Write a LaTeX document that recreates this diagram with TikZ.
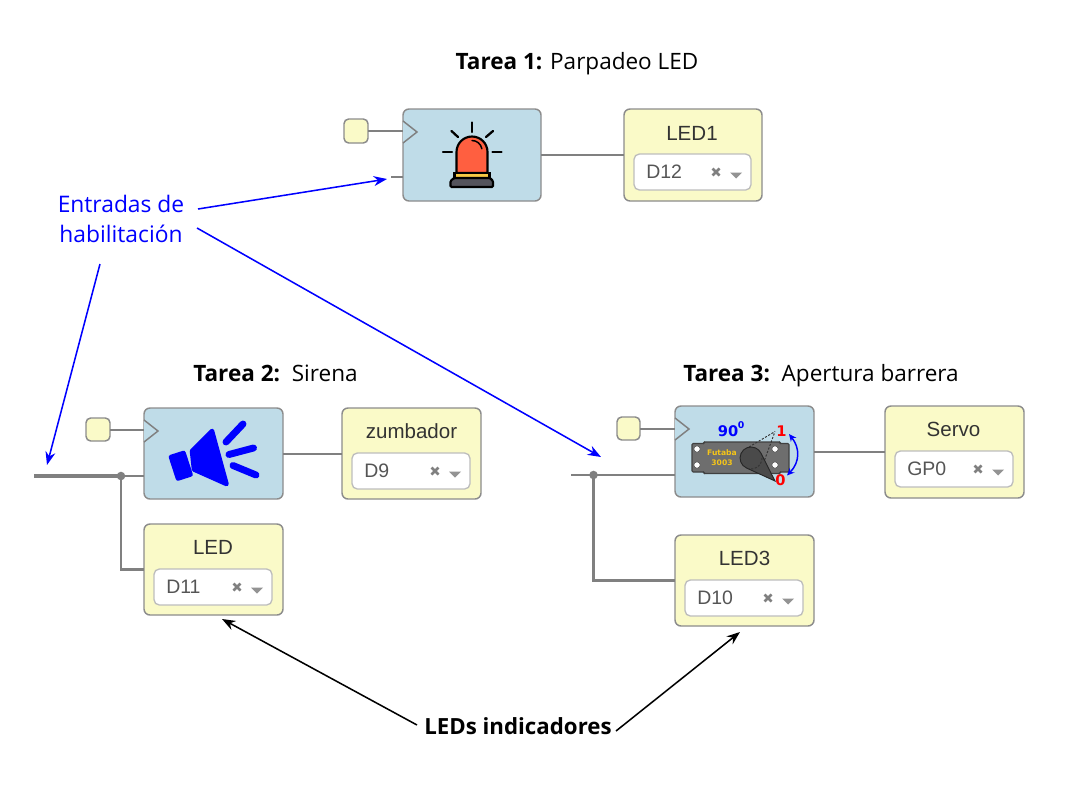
\documentclass[tikz,border=0pt]{standalone}
\usepackage{fontspec}
\setmainfont{Open Sans}
\newfontfamily\uifont{Liberation Sans}
\newfontfamily\dvfont{DejaVu Sans}
\usetikzlibrary{arrows.meta,calc}
\definecolor{blockblue}{HTML}{BFDCE8}
\definecolor{blockyellow}{HTML}{FAFAC8}
\definecolor{edgegray}{HTML}{8C8C8C}
\definecolor{wiregray}{HTML}{808080}
\definecolor{seledge}{HTML}{BDBDBD}
\definecolor{inktext}{HTML}{333333}
\definecolor{seltext}{HTML}{555555}
\definecolor{pureblue}{HTML}{0000FF}
\definecolor{sirenred}{HTML}{FF5F40}
\definecolor{sirenband}{HTML}{F6C944}
\definecolor{sirenbase}{HTML}{54545C}
\definecolor{servobody}{HTML}{6E6E6E}
\definecolor{servohorn}{HTML}{4A4A4A}
\definecolor{futaba}{HTML}{F5C518}
\newcommand\pxbox[6]{\node[#1,minimum width={(#5-#3)*0.75pt},minimum height={(#6-#4)*0.75pt}] (#2) at ({(#3+#5)/2},{(#4+#6)/2}) {};}
\newcommand\ledselect[6]{%
  \pxbox{selbox}{#1}{#2}{#3}{#4}{#5}
  \node[seltxt,anchor=west] (#1txt) at ({#2+12},{(#3+#5)/2}) {#6};
  \draw[selmark] ({#4-38.5},{(#3+#5)/2-3.5}) -- ({#4-31.5},{(#3+#5)/2+3.5}) ({#4-38.5},{(#3+#5)/2+3.5}) -- ({#4-31.5},{(#3+#5)/2-3.5});
  \fill[wiregray!85] ({#4-21},{(#3+#5)/2+.5}) -- ({#4-9},{(#3+#5)/2+.5}) -- ({#4-15},{(#3+#5)/2+6.5}) -- cycle;
}
\tikzset{
  blockb/.style={draw=edgegray,line width=1.1pt,fill=blockblue,rounded corners=4.5pt,inner sep=0pt,outer sep=0pt},
  blocky/.style={draw=edgegray,line width=1.1pt,fill=blockyellow,rounded corners=4.5pt,inner sep=0pt,outer sep=0pt},
  smallsq/.style={draw=edgegray,line width=1.1pt,fill=blockyellow,rounded corners=3.5pt,inner sep=0pt,outer sep=0pt},
  selbox/.style={draw=seledge,line width=1pt,fill=white,rounded corners=4pt,inner sep=0pt,outer sep=0pt},
  wire/.style={draw=wiregray,line width=1.5pt},
  wiredown/.style={draw=wiregray,line width=1.8pt},
  bus/.style={draw=wiregray,line width=2.4pt},
  tri/.style={draw=wiregray,line width=1.1pt,line join=miter},
  ledtxt/.style={font=\uifont\fontsize{15.4pt}{18pt}\selectfont,text=inktext,inner sep=0pt},
  seltxt/.style={font=\uifont\fontsize{14.6pt}{18pt}\selectfont,text=seltext,inner sep=0pt},
  selmark/.style={draw=wiregray,line width=1.9pt},
  titletxt/.style={font=\fontsize{16.9pt}{18pt}\selectfont,text=black,inner sep=0pt},
  bluetxt/.style={font=\fontsize{17.1pt}{22.5pt}\selectfont,text=pureblue,inner sep=0pt,align=center},
  blackarrow/.style={draw=black,line width=1.15pt,-{Stealth[length=10pt,width=7.5pt]}},
  bluearrow/.style={draw=pureblue,line width=1.15pt,-{Stealth[length=10pt,width=7.5pt]}},
  ray/.style={draw=black,line width=1.7pt,line cap=round},
  spk/.style={draw=pureblue,line width=5.2pt,line cap=round},
  spkbody/.style={draw=pureblue,fill=pureblue,line width=3.4pt,line join=round},
  dotnode/.style={circle,fill=wiregray,minimum size=6.4pt,inner sep=0pt,outer sep=0pt},
  fine/.style={black!80,line width=.7pt,dash pattern=on 1.6pt off 1.2pt},
}
\begin{document}
\begin{tikzpicture}[x=0.75pt,y=-0.75pt]
\useasboundingbox (0,0) rectangle (1070,789);

% titles
\node[titletxt] (t1) at (577,63.5) {\textbf{Tarea 1:} Parpadeo LED};
\node[titletxt] (t2) at (275.5,373) {\textbf{Tarea 2:}\ \ Sirena};
\node[titletxt] (t3) at (821,376) {\textbf{Tarea 3:}\ \ Apertura barrera};
\node[bluetxt] (ent) at (121,219) {Entradas de\\habilitación};
\node[titletxt,font=\bfseries\fontsize{16.7pt}{18pt}\selectfont] (leds) at (518,726.5) {LEDs indicadores};

% --- task 1 ---
\pxbox{smallsq}{sq1}{344}{119}{368}{143}
\pxbox{blockb}{alarm}{403}{109}{541}{201}
\pxbox{blocky}{led1}{624}{109}{762}{201}
\coordinate (en1) at (391,177);
\draw[wire] (sq1.east) -- (sq1.east -| alarm.west);
\draw[wire] (en1) -- (en1 -| alarm.west);
\draw[wire] (alarm.east) -- (led1.west);
\draw[tri,fill=blockblue] (403,121) -- (417,132) -- (403,143);
\node[ledtxt] (led1t) at (692,133) {LED1};
\ledselect{sel1}{634}{154}{751}{190}{D12}
% siren lamp
\draw[black,line width=1.6pt,fill=sirenred] (456.5,173) -- (456.5,152) arc[start angle=180,end angle=360,radius=15.5] -- (487.5,173) -- cycle;
\draw[black,line width=1.6pt,fill=sirenband] (454.5,173) rectangle (489.5,178);
\draw[black,line width=1.6pt,fill=sirenbase,rounded corners=.8pt] (450.5,187) -- (450.5,181) -- (454,178) -- (490,178) -- (493,181) -- (493,187) -- cycle;
\draw[black,line width=1.1pt,line cap=round] (472,140.5) arc[start angle=270,end angle=350,radius=10];
\draw[ray] (472,122.5) -- (472,132);
\draw[ray] (451.5,131) -- (458,137);
\draw[ray] (493,131) -- (486,137);
\draw[ray] (443,152) -- (452,152);
\draw[ray] (492.5,152) -- (501.5,152);

% --- task 2 ---
\pxbox{smallsq}{sq2}{86}{418}{110}{441}
\pxbox{blockb}{siren}{144}{408}{283}{499}
\pxbox{blocky}{zum}{342}{408}{481}{499}
\pxbox{blocky}{led2}{144}{524}{283}{615}
\coordinate (bus2) at (34,476);
\node[dotnode] (dot2) at (121,476) {};
\draw[wire] (sq2.east) -- (sq2.east -| siren.west);
\draw[bus] (bus2) -- (dot2.center);
\draw[wire] (dot2.center) -- (dot2.center -| siren.west);
\draw[wiredown] (dot2.center) |- (led2.west);
\draw[wire] (siren.east |- zum.west) -- (zum.west);
\draw[tri,fill=blockblue] (144,420) -- (158,431) -- (144,442);
\node[ledtxt] (zumt) at (411.5,431) {zumbador};
\ledselect{sel2}{352}{453}{470}{489}{D9}
\node[ledtxt] (led2t) at (213,547) {LED};
\ledselect{sel3}{154}{569}{272}{605}{D11}
% speaker
\draw[spkbody] (171,457) -- (183.5,453) -- (190.5,474.5) -- (178,478.5) -- cycle;
\draw[spkbody] (192,451) -- (212,431) -- (226.5,484) -- (194,469.5) -- cycle;
\draw[spk] (226,442) -- (243,424);
\draw[spk] (229,454.5) -- (253.5,448);
\draw[spk] (233,465.5) -- (256,475);

% --- task 3 ---
\pxbox{smallsq}{sq3}{617}{417}{640}{440}
\pxbox{blockb}{servo}{675}{406}{814}{497}
\pxbox{blocky}{srv}{885}{406}{1024}{498}
\pxbox{blocky}{led3}{675}{535}{814}{626}
\coordinate (bus3) at (571,475);
\node[dotnode] (dot3) at (593.5,475) {};
\draw[wire] (sq3.east) -- (sq3.east -| servo.west);
\draw[wire] (bus3) -- (bus3 -| servo.west);
\draw[wiredown] (dot3.center) |- (led3.west);
\draw[wire] (servo.east |- srv.west) -- (srv.west);
\draw[tri,fill=blockblue] (675,418) -- (689,429) -- (675,440);
\node[ledtxt] (srvt) at (953.5,429) {Servo};
\ledselect{sel4}{895}{451}{1013}{487}{GP0}
\node[ledtxt] (led3t) at (744.5,558) {LED3};
\ledselect{sel5}{685}{580}{803}{616}{D10}
% servo picture
\draw[black!75,line width=.8pt,fill=servobody,rounded corners=.8pt] (692,443.5) -- (704,443.5) -- (704,442) -- (780,442) -- (780,443.5) -- (789,443.5) -- (789,472) -- (780,472) -- (780,473.5) -- (704,473.5) -- (704,472) -- (692,472) -- cycle;
\foreach \hx/\hy in {697/449,697/465,775/449,775/465}{\draw[black!70,line width=.4pt,fill=white] (\hx,\hy) circle[radius=3.2];}
\node[font=\dvfont\bfseries\fontsize{5.7pt}{8pt}\selectfont,text=futaba,inner sep=0pt,align=center] (fut) at (722,458) {Futaba\\[-.6pt]3003};
\draw[fine] (749,447) -- (775,431.5) (762,467) -- (775,431.5);
\draw[black!85,line width=.7pt,fill=servohorn] (775,481) -- (746.5,468) arc[start angle=114.4,end angle=333.2,radius=11] -- cycle;
\draw[fine] (762,458) arc[start angle=0,end angle=100,radius=11];
\node[font=\dvfont\bfseries\fontsize{11pt}{12pt}\selectfont,text=pureblue,inner sep=0pt] (nineo) at (728,431) {90};
\node[font=\dvfont\bfseries\fontsize{7pt}{8pt}\selectfont,text=pureblue,inner sep=0pt] (deg) at (741,425) {0};
\node[font=\dvfont\bfseries\fontsize{11pt}{12pt}\selectfont,text=red,inner sep=0pt] (one) at (781.5,431.5) {1};
\node[font=\dvfont\bfseries\fontsize{11pt}{12pt}\selectfont,text=red,inner sep=0pt] (zero) at (780.5,480) {0};
\draw[pureblue,line width=1.1pt,{Stealth[length=5.5pt,width=5pt]}-{Stealth[length=5.5pt,width=5pt]}] (789,434) .. controls (800,448) and (800,462) .. (787,475.5);

% annotation arrows
\coordinate (a1) at (198,209);
\coordinate (a2) at (197,228);
\coordinate (a3) at (100,264);
\coordinate (b1) at (417,725);
\coordinate (b2) at (616,731);
\coordinate (c1) at (387,179);
\coordinate (c2) at (601,457);
\coordinate (c3) at (47,465);
\coordinate (d1) at (222,619);
\coordinate (d2) at (740,632);
\draw[bluearrow] (a1) -- (c1);
\draw[bluearrow] (a2) -- (c2);
\draw[bluearrow] (a3) -- (c3);
\draw[blackarrow] (b1) -- (d1);
\draw[blackarrow] (b2) -- (d2);
\end{tikzpicture}
\end{document}
